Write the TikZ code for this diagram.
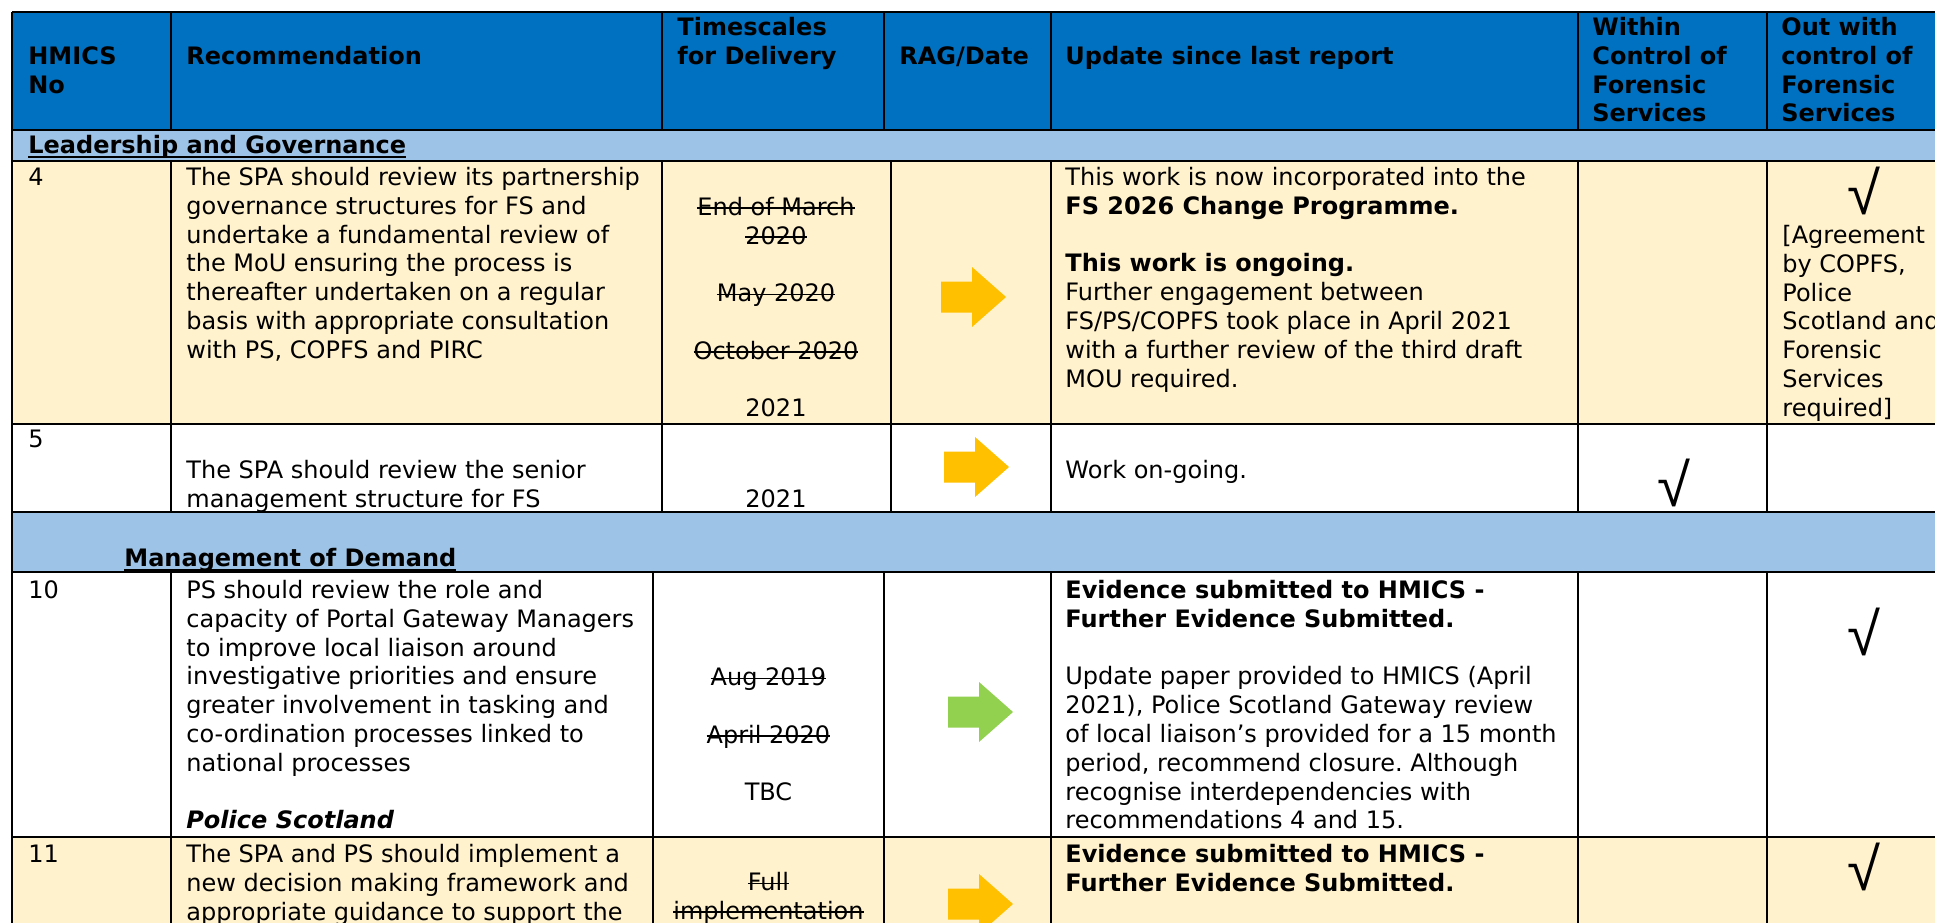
\documentclass[tikz,border=0pt]{standalone}
\usepackage{fontspec}
\setmainfont{DejaVu Sans}
\newfontfamily\tickfamily{Liberation Sans}
\definecolor{hdrblue}{HTML}{0070C0}
\definecolor{secblue}{HTML}{9DC3E6}
\definecolor{rowylw}{HTML}{FFF2CC}
\definecolor{ragamber}{HTML}{FFC000}
\definecolor{raggreen}{HTML}{92D050}
\newcommand\bodyfont{\fontsize{12pt}{14.4pt}\selectfont\frenchspacing}
\newcommand\tickfont{\tickfamily\fontsize{30pt}{34pt}\selectfont}
\newsavebox\mylinebox
\newcommand\strk[1]{\sbox\mylinebox{#1}\rlap{\raisebox{0.27em}{\rule{\wd\mylinebox}{0.7pt}}}\usebox\mylinebox}
\newcommand\secline[1]{\sbox\mylinebox{#1}\rlap{\raisebox{-2.4pt}{\rule{\wd\mylinebox}{1pt}}}\usebox\mylinebox}
\newcommand\ragarrow[3]{% x, centre y, colour
  \fill[#3] (#1,#2-15.5) -- (#1+31,#2-15.5) -- (#1+31,#2-30) -- (#1+65,#2)
     -- (#1+31,#2+30) -- (#1+31,#2+15.5) -- (#1,#2+15.5) -- cycle;}
\tikzset{
  tblline/.style={line width=1pt, black},
  cellt/.style={anchor=north west, inner sep=0pt, align=left, font=\bodyfont, yshift=10.08pt},
  cellc/.style={anchor=north, inner sep=0pt, align=center, font=\bodyfont, yshift=10.08pt},
  hdr/.style={cellt, font=\bodyfont\bfseries},
  tick/.style={inner sep=0pt, font=\tickfont, anchor=center},
}
\begin{document}
\begin{tikzpicture}[x=0.5pt,y=-0.5pt]
\useasboundingbox (0,0) rectangle (1935,922);
\clip (0,0) rectangle (1935,922);
% backgrounds
\fill[white] (0,0) rectangle (1935,922);
\fill[hdrblue] (12,12) rectangle (1940,130);
\fill[secblue] (12,130) rectangle (1940,161);
\fill[rowylw] (12,161) rectangle (1940,424);
\fill[secblue] (12,512) rectangle (1940,572);
\fill[rowylw] (12,837) rectangle (1940,930);
% horizontal rules
\foreach \yy in {12,130,161,424,512,572,837}
  \draw[tblline] (12,\yy) -- (1940,\yy);
% vertical rules
\draw[tblline] (12,12) -- (12,930);
\foreach \xx in {171,662,884,1051,1578,1767}
  \draw[tblline] (\xx,12) -- (\xx,130);
\foreach \xx in {171,662,891,1051,1578,1767}
  \draw[tblline] (\xx,161) -- (\xx,512);
\foreach \xx in {171,653,884,1051,1578,1767}
  \draw[tblline] (\xx,572) -- (\xx,930);
% header
\node[hdr] (hNo) at (28,64) {\strut HMICS\\No};
\node[hdr] (hRec) at (186,64) {\strut Recommendation};
\node[hdr] (hTime) at (677,35) {\strut Timescales\\for Delivery};
\node[hdr] (hRag) at (899,64) {\strut RAG/Date};
\node[hdr] (hUpd) at (1065,64) {\strut Update since last report};
\node[hdr] (hIn) at (1592,35) {\strut Within\\Control of\\Forensic\\Services};
\node[hdr] (hOut) at (1781,35) {\strut Out with\\control of\\Forensic\\Services};
% section 1
\node[hdr] (sec1) at (28,153) {\strut\secline{Leadership and Governance}};
% row 4
\node[cellt] (n4) at (28,185) {\strut 4};
\node[cellt] (rec4) at (186,185) {\strut The SPA should review its partnership\\governance structures for FS and\\undertake a fundamental review of\\the MoU ensuring the process is\\thereafter undertaken on a regular\\basis with appropriate consultation\\with PS, COPFS and PIRC};
\node[cellc] (time4) at (776,186) {\strut\\\strk{End of March}\\\strk{2020}\\ \\\strk{May 2020}\\ \\\strk{October 2020}\\ \\2021};
\ragarrow{941}{297}{ragamber}
\node[cellt] (upd4) at (1065,185) {\strut This work is now incorporated into the\\\textbf{FS 2026 Change Programme.}\\ \\\textbf{This work is ongoing.}\\Further engagement between\\FS/PS/COPFS took place in April 2021\\with a further review of the third draft\\MOU required.};
\node[tick] (out4t) at (1863.5,190.5) {√};
\node[cellt] (out4) at (1782,243) {\strut[Agreement\\by COPFS,\\Police\\Scotland and\\Forensic\\Services\\required]};
% row 5
\node[cellt] (n5) at (28,447) {\strut 5};
\node[cellt] (rec5) at (186,478) {\strut The SPA should review the senior\\management structure for FS};
\node[cellc] (time5) at (776,507) {\strut 2021};
\ragarrow{944}{467}{ragamber}
\node[cellt] (upd5) at (1065,478) {\strut Work on-going.};
\node[tick] (in5t) at (1673.5,483) {√};
% section 2
\node[hdr] (sec2) at (124,566) {\strut\secline{Management of Demand}};
% row 10
\node[cellt] (n10) at (28,598) {\strut 10};
\node[cellt] (rec10) at (186,598) {\strut PS should review the role and\\capacity of Portal Gateway Managers\\to improve local liaison around\\investigative priorities and ensure\\greater involvement in tasking and\\co-ordination processes linked to\\national processes\\ \\\textbf{\textit{Police Scotland}}};
\node[cellc] (time10) at (768.5,685) {\strut\strk{Aug 2019}\\ \\\strk{April 2020}\\ \\TBC};
\ragarrow{948}{712}{raggreen}
\node[cellt] (upd10) at (1065,598) {\strut\textbf{Evidence submitted to HMICS -}\\\textbf{Further Evidence Submitted.}\\ \\Update paper provided to HMICS (April\\2021), Police Scotland Gateway review\\of local liaison’s provided for a 15 month\\period, recommend closure. Although\\recognise interdependencies with\\recommendations 4 and 15.};
\node[tick] (out10t) at (1863.5,632) {√};
% row 11
\node[cellt] (n11) at (28,862) {\strut 11};
\node[cellt] (rec11) at (186,862) {\strut The SPA and PS should implement a\\new decision making framework and\\appropriate guidance to support the};
\node[cellc] (time11) at (768.5,890) {\strut\strk{Full}\\\strk{implementation}};
\ragarrow{948}{904}{ragamber}
\node[cellt] (upd11) at (1065,862) {\strut\textbf{Evidence submitted to HMICS -}\\\textbf{Further Evidence Submitted.}};
\node[tick] (out11t) at (1863.5,867) {√};
\end{tikzpicture}
\end{document}
